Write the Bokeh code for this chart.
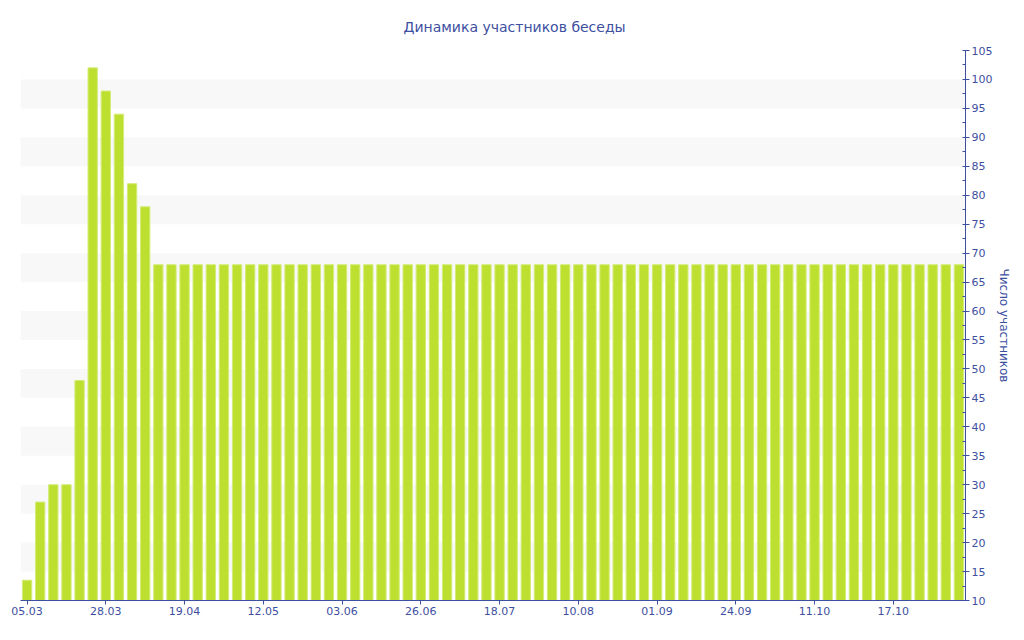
from bokeh.plotting import figure
from bokeh.models import Range1d, FixedTicker, SingleIntervalTicker
from bokeh.embed import file_html
from bokeh.resources import INLINE

title_text = "Динамика участников беседы"
y_label = "Число участников"

# participants per observation (72 observations)
participants = [13.5, 27, 30, 30, 48, 102, 98, 94, 82, 78] + [68] * 62
date_labels = ["05.03", "28.03", "19.04", "12.05", "03.06", "26.06",
               "18.07", "10.08", "01.09", "24.09", "11.10", "17.10"]
label_step = 6

n = len(participants)
xs = list(range(n))
tick_pos = list(range(0, n, label_step))[:len(date_labels)]

AX = "#3d4f9f"
FONT = "DejaVu Sans"

p = figure(frame_width=945, frame_height=550, output_backend="svg",
           toolbar_location=None, y_axis_location="right",
           x_range=Range1d(-0.5, n - 0.5), y_range=Range1d(10, 105),
           min_border_left=20, min_border_top=50, min_border_bottom=10,
           min_border_right=5)

p.title.text = title_text
p.title.align = "left"
p.title.text_font = FONT
p.title.text_font_size = "14px"
p.title.text_font_style = "normal"
p.title.text_color = AX
p.title.standoff = 32
p.title.offset = 383

p.outline_line_color = None
p.background_fill_color = "white"

p.xgrid.visible = False
p.ygrid.ticker = FixedTicker(ticks=list(range(15, 101, 5)))
p.ygrid.grid_line_color = None
p.ygrid.band_fill_color = "#f8f8f8"
p.ygrid.band_fill_alpha = 1.0

p.vbar(x=xs, top=participants, bottom=0, width=0.71,
       fill_color="#bde030", line_color="#d3ec78", line_width=1)

xa = p.xaxis[0]
xa.ticker = FixedTicker(ticks=tick_pos)
xa.major_label_overrides = {t: lab for t, lab in zip(tick_pos, date_labels)}
xa.axis_line_color = AX
xa.major_tick_line_color = AX
xa.major_tick_in = 0
xa.major_tick_out = 4
xa.minor_tick_line_color = None
xa.major_label_text_color = AX
xa.major_label_text_font = FONT
xa.major_label_text_font_size = "11px"
xa.major_label_standoff = 2

ya = p.yaxis[0]
ya.ticker = SingleIntervalTicker(interval=5, num_minor_ticks=2)
ya.axis_line_color = AX
ya.major_tick_line_color = AX
ya.minor_tick_line_color = AX
ya.major_tick_in = 2
ya.major_tick_out = 4
ya.minor_tick_in = 3
ya.minor_tick_out = 0
ya.major_label_text_color = AX
ya.major_label_text_font = FONT
ya.major_label_text_font_size = "11px"
ya.major_label_standoff = 2
ya.axis_label = y_label
ya.axis_label_text_color = AX
ya.axis_label_text_font = FONT
ya.axis_label_text_font_size = "12px"
ya.axis_label_text_font_style = "normal"
ya.axis_label_standoff = 2

open("out.html", "w").write(file_html(p, INLINE))
